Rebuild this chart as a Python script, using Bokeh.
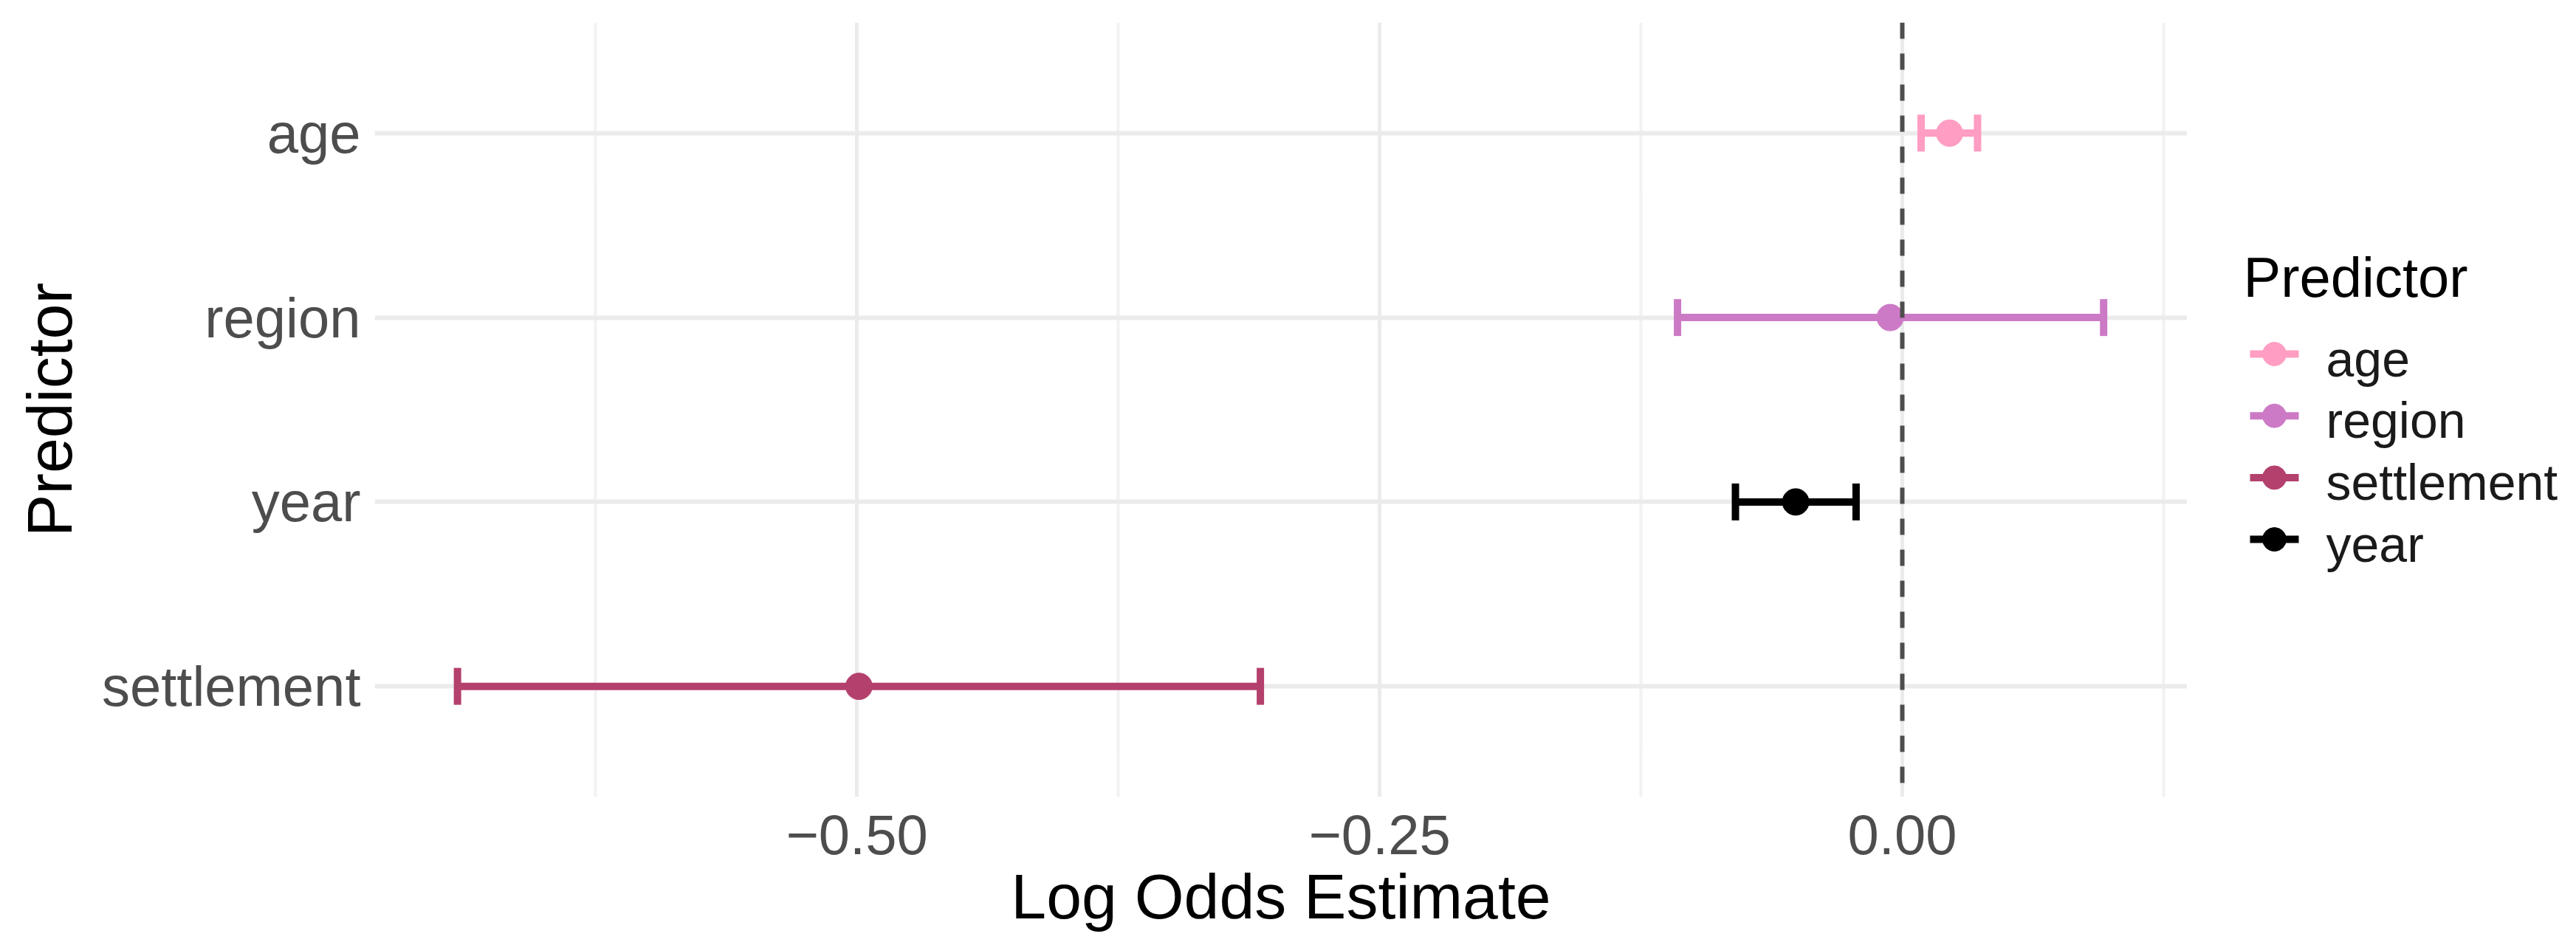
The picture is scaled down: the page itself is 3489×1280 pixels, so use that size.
from math import pi
from bokeh.plotting import figure
from bokeh.layouts import row
from bokeh.models import (ColumnDataSource, FactorRange, Range1d, FixedTicker,
                          CustomJSTickFormatter, Span)
from bokeh.core.properties import value
from bokeh.embed import file_html
from bokeh.resources import INLINE

# ---- data ----
predictors = ["age", "region", "settlement", "year"]
estimates = [0.0226, -0.0058, -0.499, -0.051]
lower = [0.009, -0.1075, -0.691, -0.0798]
upper = [0.036, 0.0963, -0.307, -0.0221]
colors = ["#FF9DC2", "#CC7AC6", "#B4406D", "#000000"]
y_order = ["settlement", "year", "region", "age"]
x_ticks = [-0.5, -0.25, 0.0]
x_minor = [-0.625, -0.375, -0.125, 0.125]

FONT = "Liberation Sans"
TOTAL_H = 1264
FRAME_TOP, FRAME_H = 30, 1049

p = figure(
    frame_width=2455, frame_height=FRAME_H,
    min_border_left=507, min_border_right=0,
    min_border_top=FRAME_TOP, min_border_bottom=185,
    x_range=Range1d(-0.7306, 0.1363),
    y_range=FactorRange(factors=y_order, range_padding=0.05),
    output_backend="svg", toolbar_location=None,
    x_axis_label="Log Odds Estimate", y_axis_label="Predictor",
)
p.outline_line_color = None
p.background_fill_color = "white"
p.border_fill_color = "white"

# grid
p.xaxis.ticker = FixedTicker(ticks=x_ticks, minor_ticks=x_minor)
p.xgrid.grid_line_color = "#EBEBEB"
p.xgrid.grid_line_width = 5
p.xgrid.minor_grid_line_color = "#F2F2F2"
p.xgrid.minor_grid_line_width = 4
p.ygrid.grid_line_color = "#EBEBEB"
p.ygrid.grid_line_width = 6

# axes
for ax in (p.xaxis[0], p.yaxis[0]):
    ax.axis_line_color = None
    ax.major_tick_line_color = None
    ax.minor_tick_line_color = None
    ax.major_tick_out = 0
    ax.major_tick_in = 0
    ax.minor_tick_out = 0
    ax.minor_tick_in = 0
    ax.major_label_text_font = FONT
    ax.major_label_text_font_size = "76px"
    ax.major_label_text_color = "#4D4D4D"
    ax.axis_label_text_font = FONT
    ax.axis_label_text_font_size = "86px"
    ax.axis_label_text_font_style = "normal"
    ax.axis_label_text_color = "#000000"

p.xaxis.formatter = CustomJSTickFormatter(
    code="return (tick < 0 ? '\u2212' : '') + Math.abs(tick).toFixed(2);")
p.xaxis.major_label_standoff = 24
p.xaxis.axis_label_standoff = 6
p.yaxis.major_label_standoff = 19
p.yaxis.axis_label_standoff = 20

for i, name in enumerate(predictors):
    src = ColumnDataSource(dict(y=[name], est=[estimates[i]],
                                lo=[lower[i]], hi=[upper[i]]))
    p.segment(x0="lo", y0="y", x1="hi", y1="y", source=src,
              line_color=colors[i], line_width=10)
    p.scatter(x="lo", y="y", source=src, marker="dash", size=50, angle=pi / 2,
              line_color=colors[i], line_width=10)
    p.scatter(x="hi", y="y", source=src, marker="dash", size=50, angle=pi / 2,
              line_color=colors[i], line_width=10)
    p.scatter(x="est", y="y", source=src, marker="circle", size=36,
              fill_color=colors[i], line_color=colors[i], line_width=1)

zero = Span(location=0, dimension="height", line_color="#4D4D4D",
            line_width=6, line_dash="22 20")
p.add_layout(zero)

# ---- legend panel: a side figure whose frame lines up with the main frame;
#      its y range is expressed in page pixels (downward) over that frame ----
LEG_W = 511
lg = figure(width=LEG_W, height=TOTAL_H,
            x_range=Range1d(0, LEG_W),
            y_range=Range1d(FRAME_TOP - 2 + FRAME_H, FRAME_TOP - 2),
            x_axis_type=None, y_axis_type=None,
            min_border_left=0, min_border_right=0,
            min_border_top=FRAME_TOP, min_border_bottom=185,
            output_backend="svg", toolbar_location=None)
lg.outline_line_color = None
lg.grid.visible = False
lg.background_fill_color = "white"
lg.border_fill_color = "white"

title_x, title_base = 76, 373
key_x0, key_x1 = 85, 151
label_x = 188
first_y, step = 477, 83.7
label_shift = 6
key_y = [first_y + k * step for k in range(len(predictors))]
key_cx = [(key_x0 + key_x1) / 2] * len(predictors)

leg_src = ColumnDataSource(dict(
    y=key_y, ty=[v + label_shift for v in key_y], cx=key_cx,
    x0=[key_x0] * len(predictors), x1=[key_x1] * len(predictors),
    lx=[label_x] * len(predictors), label=predictors, color=colors))

lg.text(x=[title_x], y=[title_base], text=["Predictor"],
        text_font=value(FONT), text_font_size="76px", text_color="#000000",
        text_baseline="alphabetic", text_align="left")
lg.segment(x0="x0", y0="y", x1="x1", y1="y", source=leg_src,
           line_color="color", line_width=10)
lg.scatter(x="cx", y="y", source=leg_src, marker="circle", size=32,
           fill_color="color", line_color="color")
lg.text(x="lx", y="ty", text="label", source=leg_src,
        text_font=value(FONT), text_font_size="68px", text_color="#1A1A1A",
        text_baseline="alphabetic", text_align="left")

layout = row(p, lg, spacing=0)
open("out.html", "w").write(file_html(layout, INLINE))
